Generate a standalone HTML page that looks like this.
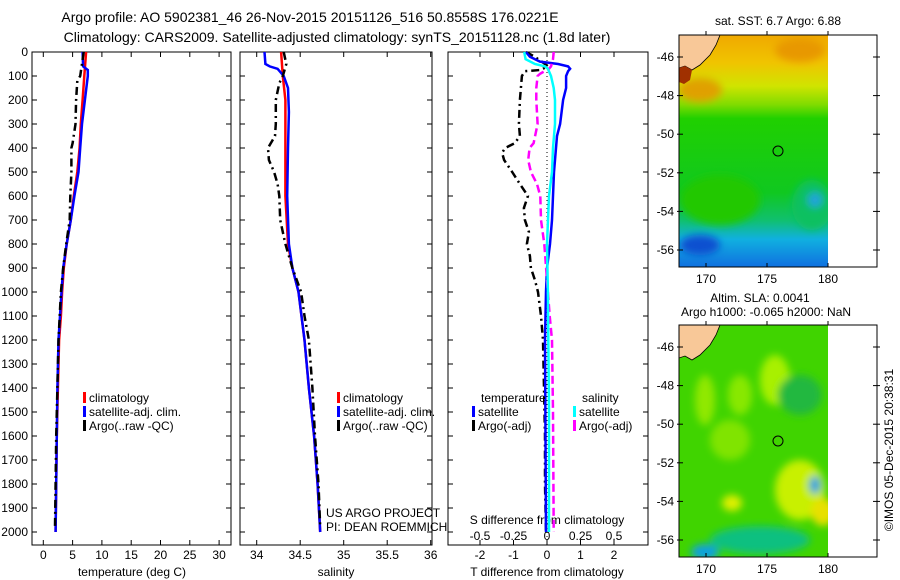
<!DOCTYPE html>
<html><head><meta charset="utf-8">
<style>
html,body{margin:0;padding:0;background:#fff;}
svg{display:block;font-family:"Liberation Sans",sans-serif;font-size:12px;}
</style></head>
<body>
<svg id="fig" width="900" height="580" viewBox="0 0 900 580">
<defs>
<linearGradient id="sstg" x1="0" y1="0" x2="0" y2="1">
<stop offset="0" stop-color="#f0a800"/><stop offset="0.12" stop-color="#f0c400"/>
<stop offset="0.22" stop-color="#d0e400"/><stop offset="0.3" stop-color="#80dc00"/>
<stop offset="0.36" stop-color="#20d000"/><stop offset="0.68" stop-color="#10c820"/>
<stop offset="0.8" stop-color="#10c070"/><stop offset="0.88" stop-color="#10b0e0"/>
<stop offset="1" stop-color="#1070e0"/></linearGradient>
<filter id="blur"><feGaussianBlur stdDeviation="4"/></filter>
<clipPath id="c1"><rect x="679" y="35" width="149" height="232"/></clipPath>
<clipPath id="c2"><rect x="679" y="325" width="149" height="232"/></clipPath>
</defs>
<text x="310" y="22" text-anchor="middle" font-size="14">Argo profile: AO 5902381_46 26-Nov-2015 20151126_516 50.8558S 176.0221E</text>
<text x="337" y="42" text-anchor="middle" font-size="14">Climatology: CARS2009. Satellite-adjusted climatology: synTS_20151128.nc (1.8d later)</text>
<g id="plots"></g>
<!-- map 1 -->
<text x="778" y="25" text-anchor="middle">sat. SST: 6.7 Argo: 6.88</text>
<g clip-path="url(#c1)">
<rect x="679" y="35" width="149" height="232" fill="url(#sstg)"/>
<g filter="url(#blur)">
<ellipse cx="700" cy="90" rx="22" ry="12" fill="#e0a000"/>
<ellipse cx="812" cy="205" rx="20" ry="25" fill="#10c060"/>
<ellipse cx="815" cy="200" rx="7" ry="7" fill="#20a0e0"/>
<ellipse cx="700" cy="245" rx="20" ry="10" fill="#1050d0"/>
<ellipse cx="720" cy="200" rx="40" ry="25" fill="#20c800"/>
<ellipse cx="800" cy="50" rx="25" ry="12" fill="#e89800"/>
</g>
<polygon points="679,35 720,35 716,45 710,55 700,65 692,70 685,66 679,68" fill="#f8c898" stroke="#000" stroke-width="0.8"/>
<polygon points="679,68 685,66 692,70 690,80 684,84 679,82" fill="#a03000"/>
</g>
<rect x="828" y="35" width="49" height="232" fill="#fff"/>
<circle cx="778" cy="151" r="5" fill="none" stroke="#000"/>
<rect x="679" y="35" width="198" height="232" fill="none" stroke="#000"/>
<g id="m1ax"></g>
<!-- map 2 -->
<text x="760" y="302" text-anchor="middle">Altim. SLA: 0.0041</text>
<text x="766" y="316" text-anchor="middle">Argo h1000: -0.065 h2000: NaN</text>
<g clip-path="url(#c2)">
<rect x="679" y="325" width="149" height="232" fill="#40d400"/>
<g filter="url(#blur)">
<ellipse cx="775" cy="380" rx="15" ry="25" fill="#a8f000"/>
<ellipse cx="740" cy="395" rx="12" ry="20" fill="#88e800"/>
<ellipse cx="705" cy="400" rx="10" ry="25" fill="#90e800"/>
<ellipse cx="730" cy="440" rx="20" ry="20" fill="#80e400"/>
<ellipse cx="800" cy="490" rx="25" ry="30" fill="#c8f000"/>
<ellipse cx="823" cy="512" rx="12" ry="14" fill="#e8e000"/>
<ellipse cx="732" cy="503" rx="10" ry="8" fill="#e0f000"/>
<ellipse cx="800" cy="395" rx="22" ry="20" fill="#20b840"/>
<ellipse cx="760" cy="540" rx="50" ry="14" fill="#10c080"/>
<ellipse cx="705" cy="552" rx="14" ry="8" fill="#10a0e0"/>
<ellipse cx="815" cy="485" rx="6" ry="9" fill="#20a0e0"/>
</g>
<polygon points="679,325 720,325 716,335 710,345 700,355 692,360 685,356 679,358" fill="#f8c898" stroke="#000" stroke-width="0.8"/>
</g>
<rect x="828" y="325" width="49" height="232" fill="#fff"/>
<circle cx="778" cy="441" r="5" fill="none" stroke="#000"/>
<rect x="679" y="325" width="198" height="232" fill="none" stroke="#000"/>
<g id="m2ax"></g>
<text transform="translate(893,450) rotate(-90)" text-anchor="middle">©IMOS 05-Dec-2015 20:38:31</text>
</svg>
<script>
// ---- data ----
const depthT = [0,100,200,300,400,500,600,700,800,900,1000,1100,1200,1400,1600,1800,2000];
const climTemp = [7.3,7.0,6.7,6.4,6.2,5.8,5.2,4.7,4.0,3.5,3.2,3.0,2.7,2.5,2.3,2.2,2.1];
const depthTS = [0,60,75,100,200,300,400,500,600,700,800,900,1000,1200,1400,1600,1800,2000];
const satTemp = [6.7,6.8,7.6,7.6,7.1,6.6,6.3,6.0,5.3,4.7,4.0,3.4,3.1,2.6,2.4,2.3,2.2,2.1];
const depthA = [0,100,120,200,300,380,400,500,600,700,800,900,1000,1200,1400,1600,1800,1980];
const argoTemp = [6.9,6.3,5.8,5.6,5.5,5.0,4.8,4.8,4.6,4.5,3.9,3.4,3.0,2.6,2.4,2.2,2.1,2.0];
const depthS = [0,100,200,400,600,800,900,1000,1200,1400,1600,1800,2000];
const climSal = [34.28,34.30,34.33,34.33,34.33,34.36,34.41,34.48,34.55,34.60,34.66,34.70,34.73];
const depthSS = [0,50,60,70,100,150,250,400,600,800,900,1000,1200,1400,1600,1800,2000];
const satSal = [34.09,34.10,34.15,34.24,34.31,34.36,34.37,34.36,34.35,34.37,34.41,34.48,34.55,34.60,34.66,34.70,34.73];
const depthAS = [0,50,100,130,200,300,350,400,450,500,550,600,700,800,900,1000,1100,1200,1400,1600,1800,1980];
const argoSal = [34.31,34.34,34.30,34.26,34.22,34.22,34.21,34.13,34.14,34.20,34.24,34.26,34.27,34.33,34.41,34.51,34.55,34.60,34.64,34.67,34.71,34.73];
const depthD = [0,20,50,60,75,80,100,200,300,350,380,400,420,450,500,550,600,650,700,750,800,850,900,950,1000,1100,1200,1400,1600,1800,2000];
const argoTdiff = [-0.63,-0.36,-0.06,0.03,-0.21,-0.66,-0.75,-0.81,-0.84,-0.81,-0.96,-1.25,-1.34,-1.28,-1.04,-0.81,-0.57,-0.69,-0.66,-0.54,-0.6,-0.51,-0.48,-0.36,-0.27,-0.18,-0.12,-0.09,-0.06,-0.06,-0.03];
const depthDS = [0,20,40,50,60,70,80,100,150,200,300,350,400,500,600,700,800,900,1000,1200,2000];
const satTdiff = [-0.63,-0.51,-0.21,0.33,0.63,0.69,0.63,0.57,0.57,0.48,0.39,0.30,0.27,0.21,0.18,0.15,0.09,0,-0.03,-0.06,-0.03];
const depthCS = [0,30,50,60,70,100,150,200,300,400,500,600,800,1000,1500,2000];
const satSdiff = [-0.17,-0.16,-0.09,-0.015,0.007,0.03,0.05,0.06,0.06,0.045,0.037,0.015,0,0.007,0.015,0.015];
const depthMS = [0,30,60,70,90,100,150,200,300,380,400,450,500,550,600,700,800,900,1000,1100,1200,1500,2000];
const argoSdiff = [0.05,0.045,0.03,0.015,-0.05,-0.07,-0.08,-0.08,-0.07,-0.1,-0.13,-0.14,-0.12,-0.075,-0.05,-0.045,-0.02,-0.007,0.007,0.02,0.037,0.045,0.05];
const depthTicks = [0,100,200,300,400,500,600,700,800,900,1000,1100,1200,1300,1400,1500,1600,1700,1800,1900,2000];
const tempTicks = [0,5,10,15,20,25,30];
const salTicks = [34,34.5,35,35.5,36];
const tdTicks = [-2,-1,0,1,2];
const sdTicks = [-0.5,-0.25,0,0.25,0.5];
const lonTicks = [170,175,180];
const latTicks = [-46,-48,-50,-52,-54,-56];

const NS="http://www.w3.org/2000/svg";
const svg=document.getElementById('plots');
const top0=52, bot=545;
const yD=d=>52+0.24*d;
function el(tag,attrs,parent){const e=document.createElementNS(NS,tag);for(const k in attrs)e.setAttribute(k,attrs[k]);(parent||svg).appendChild(e);return e;}
function txt(x,y,s,anchor,parent){const t=el('text',{x:x,y:y,'text-anchor':anchor||'start'},parent);t.textContent=s;return t;}
function line(xs,ds,fx,color,w,dash,name){
  const pts=xs.map((v,i)=>fx(v).toFixed(1)+','+yD(ds[i]).toFixed(1)).join(' ');
  const p=el('polyline',{points:pts,fill:'none',stroke:color,'stroke-width':w});
  if(dash)p.setAttribute('stroke-dasharray',dash);
  
  
}
const panels=[{x0:32,x1:231},{x0:240,x1:432},{x0:448,x1:648}];
panels.forEach((p,i)=>{
  const r=el('rect',{x:p.x0,y:top0,width:p.x1-p.x0,height:bot-top0,fill:'none',stroke:'#000'});
  
  
  depthTicks.forEach(d=>{el('line',{x1:p.x0,x2:p.x0+5,y1:yD(d),y2:yD(d),stroke:'#000'});el('line',{x1:p.x1,x2:p.x1-5,y1:yD(d),y2:yD(d),stroke:'#000'});});
});
depthTicks.forEach(d=>{const t=txt(28,yD(d)+4,String(d),'end');});
// panel 1
const fT=t=>43.3+5.86*t;
tempTicks.forEach(t=>{el('line',{x1:fT(t),x2:fT(t),y1:bot,y2:bot-5,stroke:'#000'});el('line',{x1:fT(t),x2:fT(t),y1:top0,y2:top0+5,stroke:'#000'});
  const l=txt(fT(t),559,String(t),'middle');});
let a=txt(132,576,'temperature (deg C)','middle');
line(climTemp,depthT,fT,'#f00',2.5,null,'temp-climatology-line');
line(satTemp,depthTS,fT,'#00f',2.5,null,'temp-satellite-line');
line(argoTemp,depthA,fT,'#000',2.5,'8,4,2,4','temp-argo-line');
// panel 2
const fS=s=>256.7+87*(s-34);
salTicks.forEach(s=>{el('line',{x1:fS(s),x2:fS(s),y1:bot,y2:bot-5,stroke:'#000'});el('line',{x1:fS(s),x2:fS(s),y1:top0,y2:top0+5,stroke:'#000'});
  const l=txt(fS(s),559,String(s),'middle');});
a=txt(336,576,'salinity','middle');
line(climSal,depthS,fS,'#f00',2.5,null,'sal-climatology-line');
line(satSal,depthSS,fS,'#00f',2.5,null,'sal-satellite-line');
line(argoSal,depthAS,fS,'#000',2.5,'8,4,2,4','sal-argo-line');
// panel 3
const fTd=t=>547+33.5*t, fSd=s=>547+134*s;
tdTicks.forEach(t=>{el('line',{x1:fTd(t),x2:fTd(t),y1:bot,y2:bot-5,stroke:'#000'});el('line',{x1:fTd(t),x2:fTd(t),y1:top0,y2:top0+5,stroke:'#000'});
  const l=txt(fTd(t),559,String(t),'middle');});
sdTicks.forEach(s=>{const l=txt(fSd(s),540,String(s),'middle');});
a=txt(547,576,'T difference from climatology','middle');
a=txt(547,524,'S difference from climatology','middle');
el('line',{x1:547,x2:547,y1:top0,y2:bot,stroke:'#000','stroke-dasharray':'1,3'});
line(argoTdiff,depthD,fTd,'#000',2.5,'8,4,2,4','tdiff-argo-line');
line(satTdiff,depthDS,fTd,'#00f',2.5,null,'tdiff-satellite-line');
line(argoSdiff,depthMS,fSd,'#f0f',2.5,'8,4','sdiff-argo-line');
line(satSdiff,depthCS,fSd,'#0ff',2.5,null,'sdiff-satellite-line');
// legends
function leg(x,y,color,label,name){
  el('rect',{x:x,y:y-10,width:3,height:11,fill:color});
  const t=txt(x+6,y,label);
}
leg(83,402,'#f00','climatology','legend-climatology');
leg(83,416,'#00f','satellite-adj. clim.','legend-satellite');
leg(83,430,'#000','Argo(..raw -QC)','legend-argo');
leg(337,402,'#f00','climatology','legend2-climatology');
leg(337,416,'#00f','satellite-adj. clim.','legend2-satellite');
leg(337,430,'#000','Argo(..raw -QC)','legend2-argo');
a=txt(481,402,'temperature');
a=txt(582,402,'salinity');
leg(472,416,'#00f','satellite','legend-tdiff-satellite');
leg(472,430,'#000','Argo(-adj)','legend-tdiff-argo');
leg(573,416,'#0ff','satellite','legend-sdiff-satellite');
leg(573,430,'#f0f','Argo(-adj)','legend-sdiff-argo');
a=txt(326,517,'US ARGO PROJECT');
a=txt(326,531,'PI: DEAN ROEMMICH');
// map axes
function mapAxes(gid,ytop,ybot,lat46){
  const g=document.getElementById(gid);
  const fx=l=>706+12.2*(l-170), fy=l=>lat46+19.3*(-46-l);
  lonTicks.forEach(l=>{el('line',{x1:fx(l),x2:fx(l),y1:ybot,y2:ybot-4,stroke:'#000'},g);el('line',{x1:fx(l),x2:fx(l),y1:ytop,y2:ytop-4,stroke:'#000'},g);
    const t=txt(fx(l),ybot+16,String(l),'middle',g);});
  latTicks.forEach(l=>{el('line',{x1:677,x2:683,y1:fy(l),y2:fy(l),stroke:'#000'},g);el('line',{x1:873,x2:880,y1:fy(l),y2:fy(l),stroke:'#000'},g);
    const t=txt(674,fy(l)+4,String(l),'end',g);});
}
mapAxes('m1ax',35,267,57);
mapAxes('m2ax',325,557,347);
</script>
</body></html>
